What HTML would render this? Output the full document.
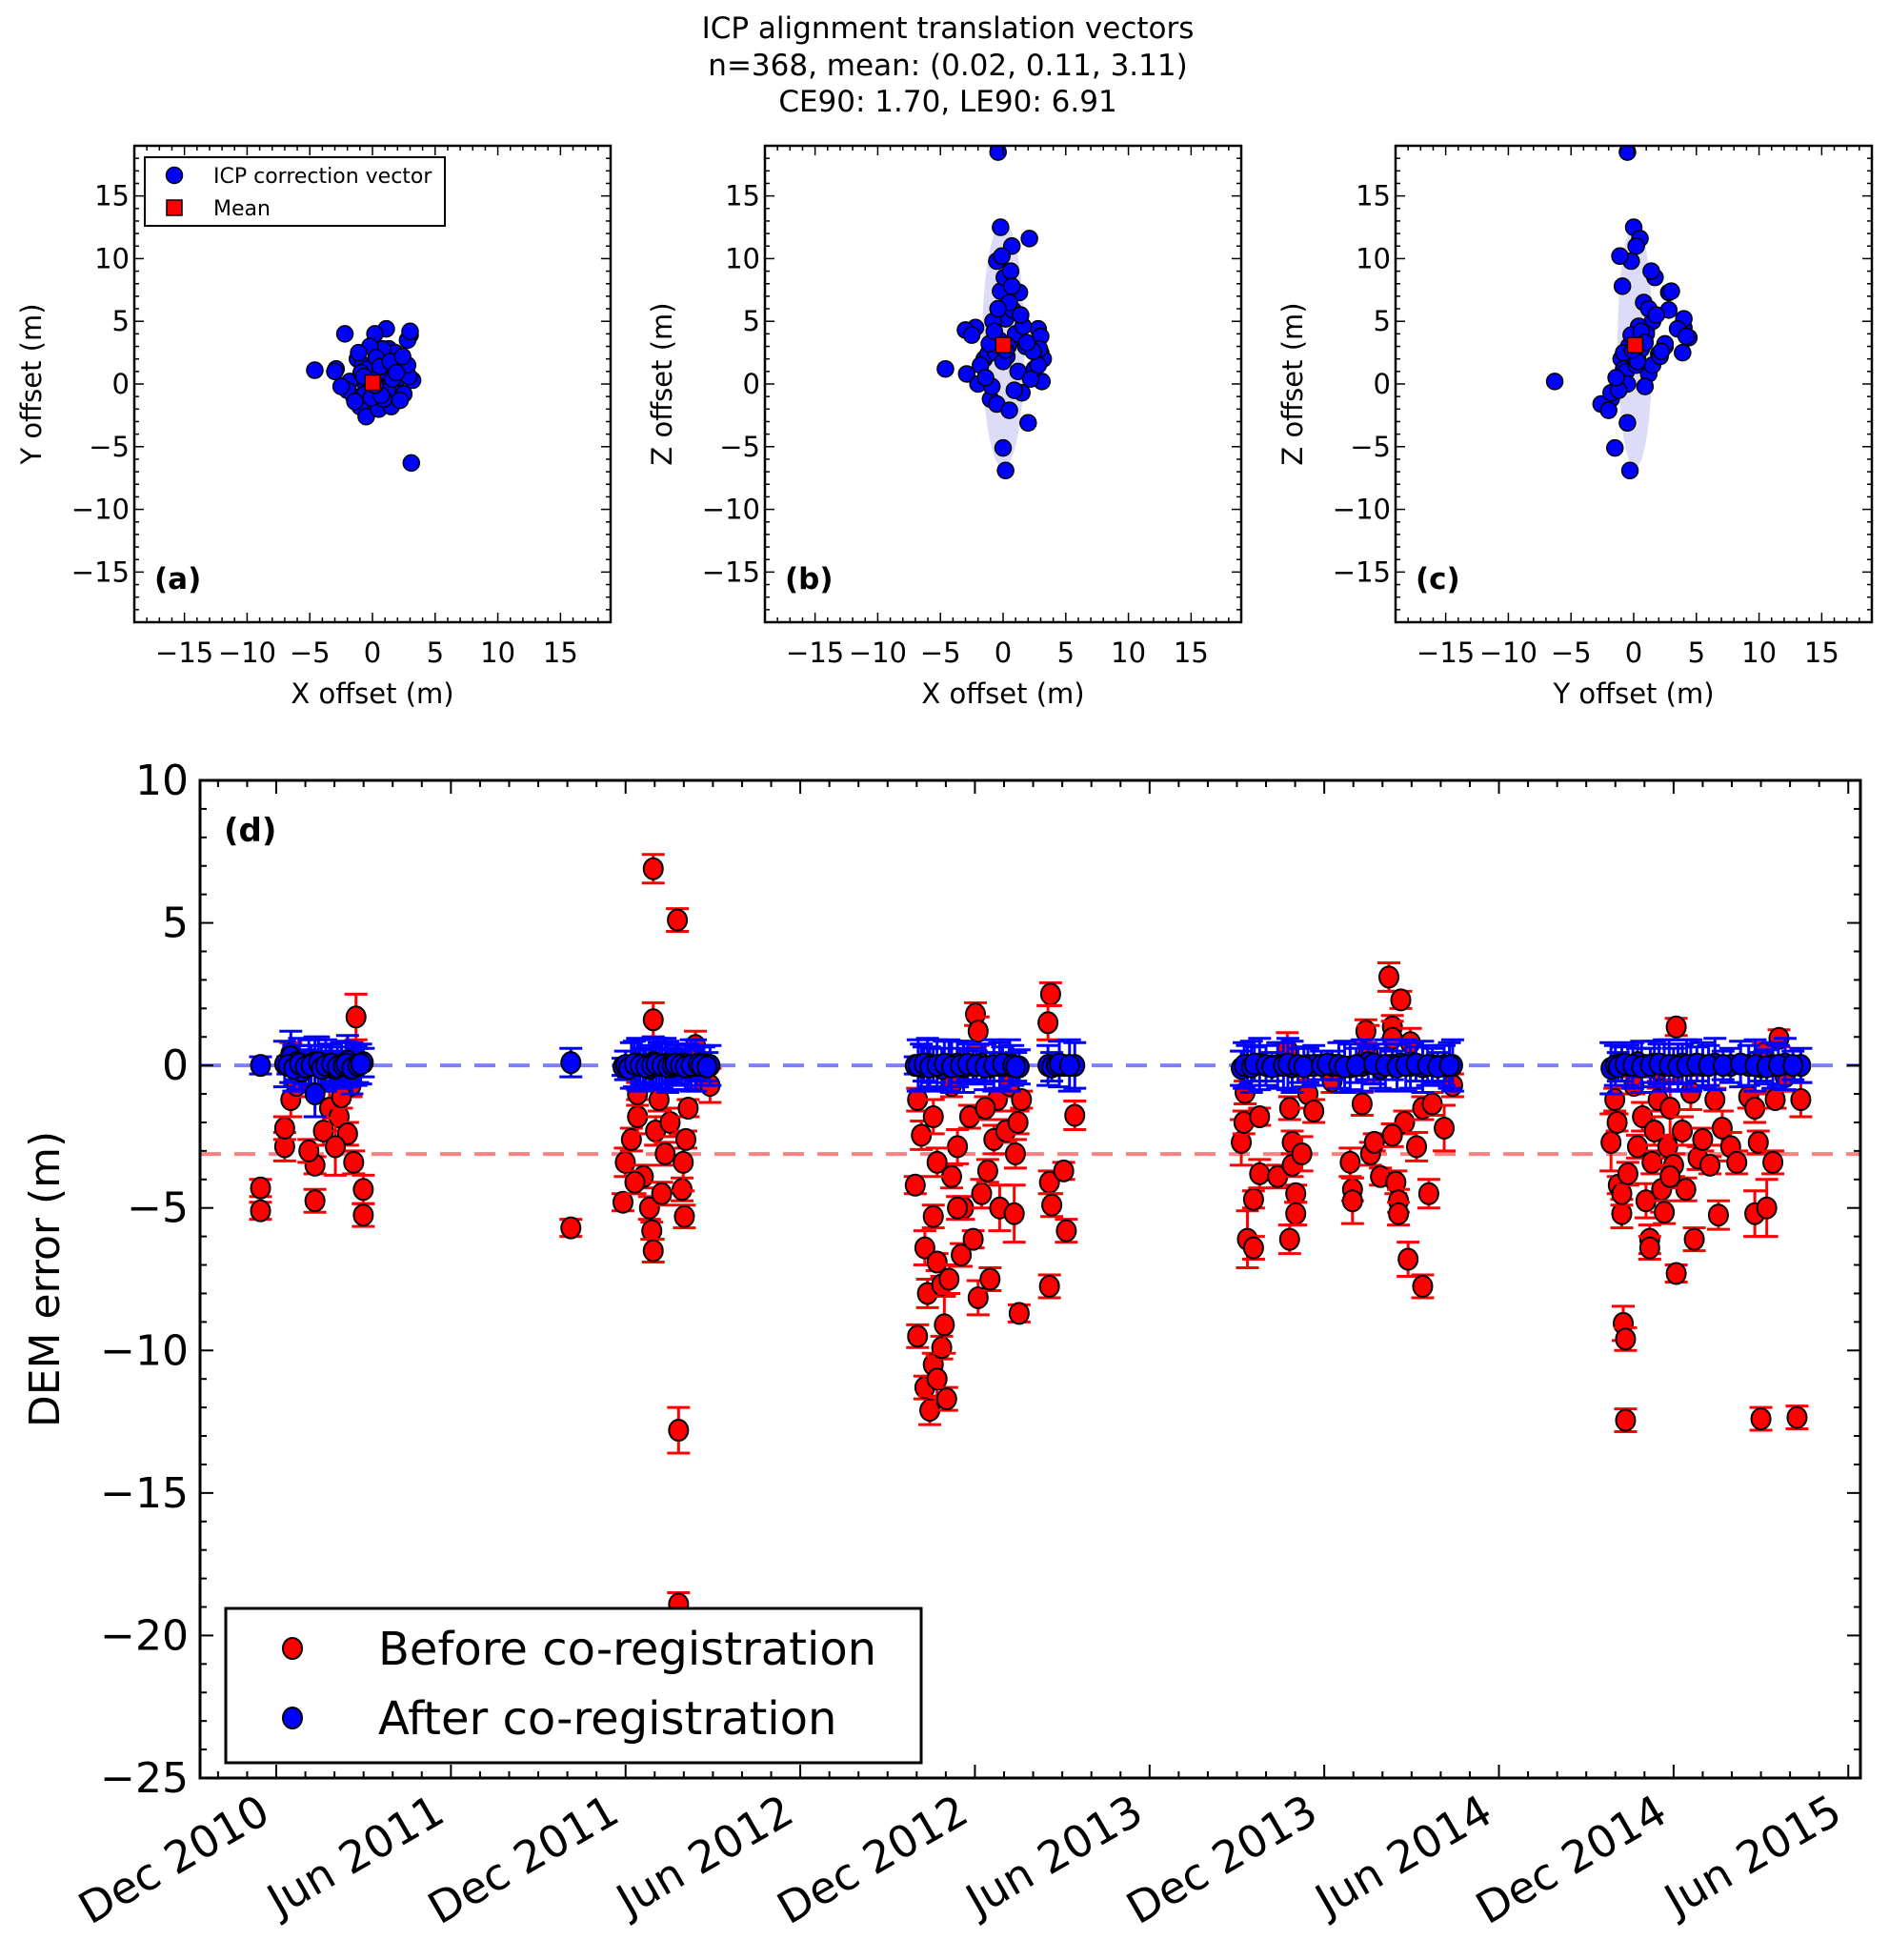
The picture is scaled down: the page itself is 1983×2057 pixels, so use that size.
<!DOCTYPE html>
<html><head><meta charset="utf-8">
<style>
html,body{margin:0;padding:0;background:#fff;}
svg{display:block;font-family:"DejaVu Sans","Liberation Sans",sans-serif;}
</style></head>
<body>
<svg id="fig" width="1983" height="2057" viewBox="0 0 1983 2057" xmlns="http://www.w3.org/2000/svg">
<rect width="1983" height="2057" fill="#fff"/>
<g font-size="31" text-anchor="middle">
<text x="995" y="40">ICP alignment translation vectors</text>
<text x="995" y="79">n=368, mean: (0.02, 0.11, 3.11)</text>
<text x="995" y="117">CE90: 1.70, LE90: 6.91</text>
</g>
<g id="topPanels"></g>
<g id="bottom"></g>
</svg>
<script>
// ---------- ICP vector data (x, y, z offsets in m) ----------
const vecX = [-4.6,3.1,-2.2,3.0,1.1,0.2,-2.9,2.0,0.0,0.2,-0.4,-0.2,2.1,0.7,-0.5,1.3,-3.0,2.8,3.0,3.2,2.9,-1.5,-1.2,-1.0,-0.5,0.5,1.5,2.5,2.8,1.8,0.8,-0.2,0.1,0.5,-0.8,1.0,-0.3,0.4,-0.6,1.2,-1.8,2.2,-2.0,0.9,-0.4,1.6,-1.1,0.3,-0.9,0.6,-0.1,1.4,0.0,-1.4,2.4,-2.5,0.7,-0.7,1.9,0.2];
const vecY = [1.1,-6.3,4.0,3.9,4.4,4.0,1.2,-0.5,-1.5,-0.3,-0.5,0.0,0.5,0.2,-0.2,2.8,1.0,3.5,4.2,0.3,0.6,-1.0,2.0,-1.8,-2.6,-2.0,-1.8,-0.8,1.5,2.5,2.8,3.0,1.7,0.8,1.5,1.0,0.5,-0.4,-0.8,-0.6,0.2,-1.3,-0.5,-1.2,1.2,0.4,2.5,2.1,0.9,1.4,-1.1,1.8,0.3,-1.4,2.2,-0.2,-0.9,0.6,0.9,-0.1];
const vecZ = [1.2,0.2,4.5,2.5,3.7,5.2,0.8,-3.1,-5.1,-6.9,18.5,12.5,11.6,11.0,9.8,7.3,4.3,4.4,3.8,2.0,2.8,2.0,2.4,-1.2,-1.6,-2.1,-0.7,1.2,1.5,3.0,5.9,7.4,8.5,6.5,5.0,4.0,3.5,3.0,2.5,1.0,1.5,0.4,0.0,-0.5,6.0,4.6,3.2,2.2,-0.2,9.0,10.2,5.5,1.8,0.5,2.6,3.9,7.8,4.2,3.3,2.7];
const meanXYZ = [0.02, 0.11, 3.11];
const offTicks = [-15,-10,-5,0,5,10,15];
const offTickLabels = ["\u221215","\u221210","\u22125","0","5","10","15"];

// ---------- DEM error data (months since 1 Dec 2010, error m) ----------
const beforeT = [-0.54,-0.54,0.29,0.29,0.5,0.7,0.5,1.33,1.33,1.12,1.62,1.83,2.16,2.45,2.66,2.99,2.99,2.74,2.57,2.24,2.03,0.87,
10.12,11.91,11.99,12.2,12.41,12.41,12.61,12.82,12.9,12.95,12.95,12.95,13.03,13.24,13.36,13.53,13.78,13.82,13.82,13.94,13.98,14.02,14.07,14.15,14.4,14.69,14.9,13.65,13.15,12.32,
21.95,22.03,22.16,22.28,22.37,22.03,22.28,22.45,22.57,22.7,22.86,23.03,22.95,22.57,22.7,22.86,23.11,23.2,23.4,23.53,23.61,23.82,23.94,24.02,24.11,24.11,24.23,24.44,24.52,24.65,24.77,24.85,25.06,25.19,25.35,25.48,25.52,25.6,25.39,26.6,26.51,26.56,26.64,26.56,27.05,27.14,27.43,22.57,22.7,23.2,23.4,23.73,24.36,
33.15,33.24,33.28,33.36,33.57,33.57,33.78,33.78,34.4,34.73,34.81,34.9,34.9,35.02,35.02,34.81,35.23,35.44,35.64,36.27,36.89,36.97,36.97,37.3,37.43,37.51,37.59,37.72,37.93,38.22,38.34,38.34,38.46,38.55,38.55,38.63,38.76,38.96,38.88,39.17,39.38,39.38,39.59,39.71,40.12,40.41,38.34,
45.85,45.98,46.06,46.1,46.22,46.22,46.27,46.35,46.35,46.43,46.64,46.76,46.93,47.05,47.18,47.18,47.26,47.34,47.47,47.59,47.68,47.8,47.88,48.0,48.09,48.09,48.3,48.42,48.59,48.71,48.84,49.0,49.25,49.42,49.54,49.67,49.96,50.17,50.58,50.79,50.91,50.79,51.0,51.08,51.2,51.41,51.49,51.62,51.83,52.24,52.37,47.88,47.47];
const beforeV = [-5.1,-4.3,-2.85,-2.2,-1.2,-0.7,0.4,-4.75,-3.5,-3.0,-2.3,-1.5,-1.8,-2.4,-3.4,-4.35,-5.25,1.7,-0.7,-1.1,-2.85,0.1,
-5.7,-4.8,-3.4,-2.6,-1.8,-1.0,-3.9,-5.0,-5.8,-6.5,6.9,1.6,-2.3,-4.5,-3.1,-2.0,5.1,-12.8,-18.9,-4.35,-3.4,-5.3,-2.6,-1.5,0.7,-0.4,-0.7,-0.1,-1.2,-4.1,
-4.2,-1.2,-2.45,-6.4,-8.0,-9.5,-11.3,-12.1,-10.5,-11.0,-9.9,-11.7,-9.1,-5.3,-6.9,-7.7,-7.5,-3.9,-2.85,-6.65,-5.0,-1.8,-6.1,1.8,1.2,-8.15,-4.5,-3.7,-7.5,-2.6,-1.2,-5.0,-2.3,-0.7,-5.2,-2.0,-8.7,-1.2,-3.1,2.5,1.5,-4.1,-4.9,-7.75,-3.7,-5.8,-1.75,-1.8,-3.4,-0.7,-5.0,0.0,-1.5,
-2.7,-2.0,-0.95,-6.1,-6.4,-4.7,-1.8,-3.8,-3.9,0.55,-1.5,-2.7,-3.5,-4.5,-5.2,-6.1,-3.1,-1.0,-1.6,-0.55,-3.4,-4.35,-4.75,-1.35,1.2,0.4,-3.1,-2.7,-3.9,3.1,1.35,0.95,-4.1,-4.75,-5.2,2.3,-2.0,0.8,-6.8,-2.85,-1.5,-7.75,-4.5,-1.35,-2.2,-0.7,-2.45,
-2.7,-1.2,-2.0,-4.2,-5.2,-4.5,-9.05,-9.6,-12.45,-3.8,-0.7,-2.85,-1.8,-4.75,-6.1,-6.4,-3.4,-2.3,-1.2,-4.35,-5.15,-2.85,-1.5,-3.5,1.35,-7.3,-2.3,-4.35,-0.95,-6.1,-3.25,-2.6,-3.5,-1.2,-5.25,-2.2,-2.85,-3.4,-1.1,-1.5,-2.7,-5.2,-12.4,0.4,-5.0,-3.4,-1.2,0.95,-0.4,-12.35,-1.2,-3.9,-0.15];
const beforeErr = [0.3,0.3,0.5,0.4,0.6,0.4,0.4,0.4,0.3,0.4,0.5,0.6,0.5,0.4,0.4,0.5,0.4,0.8,0.4,0.4,1.0,0.4];
const afterT = [-0.54,0.29,0.5,0.7,0.87,1.12,1.33,1.33,1.62,1.83,2.03,2.24,2.45,2.57,2.74,2.99,0.4,0.6,0.8,1.0,1.2,1.45,1.55,1.7,1.9,2.1,2.3,2.4,2.6,2.8,2.9,
10.12,11.91,12.2,12.41,12.61,12.82,12.95,13.15,13.36,13.53,13.78,13.98,14.15,14.4,14.69,14.9,12.0,12.1,12.3,12.5,12.7,12.9,13.05,13.25,13.45,13.6,13.7,13.88,14.05,14.25,14.5,14.6,14.8,
21.95,22.16,22.37,22.57,22.86,23.11,23.4,23.61,23.94,24.23,24.52,24.85,25.19,25.52,26.51,26.64,27.05,27.43,22.05,22.25,22.45,22.7,22.95,23.2,23.5,23.75,24.05,24.35,24.65,24.95,25.3,25.4,26.8,26.9,27.25,
33.15,33.36,33.78,34.4,34.9,35.44,35.64,36.27,36.89,37.3,37.51,37.93,38.34,38.63,38.96,39.38,39.71,40.12,40.41,33.25,33.5,33.6,34.0,34.2,34.6,34.75,35.1,35.3,35.9,36.1,36.5,36.7,37.1,37.7,38.1,38.5,38.8,39.15,39.55,39.9,40.3,
45.85,46.22,46.43,46.76,47.05,47.34,47.68,48.0,48.3,48.59,49.0,49.42,49.96,50.58,51.0,51.41,51.83,52.37,46.0,46.1,46.33,46.6,46.9,47.2,47.5,47.85,48.15,48.45,48.8,49.2,49.7,50.3,50.8,51.2,51.6,52.1];
const afterV = [0.0,0.05,0.3,0.1,-0.2,0.0,-1.0,0.1,-0.1,0.05,-0.1,0.0,0.15,-0.1,0.0,0.1,0.0,-0.1,0.05,-0.05,0.0,0.1,-0.1,0.0,0.05,-0.05,0.0,0.05,-0.1,0.0,0.05,
0.1,-0.05,0.0,0.05,0.0,-0.1,0.1,0.0,0.05,-0.05,0.0,0.05,-0.05,0.0,0.05,0.0,0.0,-0.1,0.05,0.0,-0.05,0.0,0.05,0.0,-0.05,0.0,0.05,0.0,-0.05,0.0,0.05,0.0,-0.05,
0.0,-0.05,0.05,0.0,-0.1,0.0,0.05,-0.05,0.0,0.05,-0.05,0.0,0.0,-0.05,0.0,-0.05,0.0,0.0,0.0,0.05,-0.05,0.0,0.05,-0.05,0.0,0.05,0.0,-0.05,0.0,0.05,0.0,-0.05,0.0,0.05,0.0,
-0.1,0.0,0.05,0.0,-0.05,0.0,0.0,0.0,-0.05,0.0,0.1,-0.1,0.0,0.05,0.0,-0.05,0.0,0.0,0.0,0.0,-0.05,0.05,0.0,-0.05,0.0,0.05,0.0,-0.05,0.0,0.05,0.0,-0.05,0.0,0.05,0.0,-0.05,0.0,0.05,0.0,-0.05,0.0,
-0.1,0.05,0.0,0.1,0.0,0.05,0.0,0.0,0.05,0.0,0.0,0.05,0.0,0.0,-0.05,0.0,0.05,0.0,0.0,-0.05,0.05,0.0,-0.05,0.0,0.05,0.0,-0.05,0.0,0.05,0.0,0.0,0.05,0.0,-0.05,0.0,0.0];
const afterErr = [0.3,0.8,0.9,0.6,0.7,0.9,0.8,0.9,0.6,0.7,0.5,0.8,0.9,0.6,0.7,0.5];
const dateTickMonths = [0,6,12,18,24,30,36,42,48,54];
const dateTickLabels = ["Dec 2010","Jun 2011","Dec 2011","Jun 2012","Dec 2012","Jun 2013","Dec 2013","Jun 2014","Dec 2014","Jun 2015"];
const errTicks = [10,5,0,-5,-10,-15,-20,-25];
const errTickLabels = ["10","5","0","\u22125","\u221210","\u221215","\u221220","\u221225"];
const meanBefore = -3.11;
const meanAfter = 0;

const NS = "http://www.w3.org/2000/svg";
function el(tag, attrs, parent){const e=document.createElementNS(NS,tag);for(const k in attrs)e.setAttribute(k,attrs[k]);if(parent)parent.appendChild(e);return e;}

// ---------- top scatter panels ----------
const topG = document.getElementById('topPanels');
const panels = [
 {left:141, name:'panel-a', label:'(a)', xs:vecX, ys:vecY, mx:meanXYZ[0], my:meanXYZ[1], xl:'X offset (m)', yl:'Y offset (m)', ell:[1.7,1.7], legend:true},
 {left:803, name:'panel-b', label:'(b)', xs:vecX, ys:vecZ, mx:meanXYZ[0], my:meanXYZ[2], xl:'X offset (m)', yl:'Z offset (m)', ell:[1.7,9.8]},
 {left:1465, name:'panel-c', label:'(c)', xs:vecY, ys:vecZ, mx:meanXYZ[1], my:meanXYZ[2], xl:'Y offset (m)', yl:'Z offset (m)', ell:[1.4,9.8]}
];
const PT=153, PW=500, LIM=19;
panels.forEach(p=>{
  const g=el('g',{},topG);
  
  
  const sx=v=>p.left+(v+LIM)/(2*LIM)*PW;
  const sy=v=>PT+(LIM-v)/(2*LIM)*PW;
  const clip=el('clipPath',{id:'clip-'+p.name},g);
  el('rect',{x:p.left,y:PT,width:PW,height:PW},clip);
  const plot=el('g',{'clip-path':'url(#clip-'+p.name+')'},g);
  const e=el('ellipse',{cx:sx(p.mx),cy:sy(p.my),rx:p.ell[0]*PW/(2*LIM),ry:p.ell[1]*PW/(2*LIM),fill:'#dcdcf8'},plot);
  
  
  for(let i=0;i<p.xs.length;i++){
    const c=el('circle',{cx:sx(p.xs[i]),cy:sy(p.ys[i]),r:8.5,fill:'#0000ff',stroke:'#000','stroke-width':1.5},plot);
    
    
  }
  const m=el('rect',{x:sx(p.mx)-8,y:sy(p.my)-8,width:16,height:16,fill:'#ff0000',stroke:'#000','stroke-width':1.5},plot);
  
  
  el('rect',{x:p.left,y:PT,width:PW,height:PW,fill:'none',stroke:'#000','stroke-width':2.5},g);
  for(let v=-18; v<=18; v++){
    const major = v%5===0;
    const L = major?10:5;
    el('line',{x1:sx(v),x2:sx(v),y1:PT+PW,y2:PT+PW-L,stroke:'#000','stroke-width':1.5},g);
    el('line',{x1:sx(v),x2:sx(v),y1:PT,y2:PT+L,stroke:'#000','stroke-width':1.5},g);
    el('line',{x1:p.left,x2:p.left+L,y1:sy(v),y2:sy(v),stroke:'#000','stroke-width':1.5},g);
    el('line',{x1:p.left+PW,x2:p.left+PW-L,y1:sy(v),y2:sy(v),stroke:'#000','stroke-width':1.5},g);
  }
  offTicks.forEach((v,i)=>{
    const t=el('text',{x:sx(v),y:PT+PW+42,'font-size':29,'text-anchor':'middle'},g);
    t.textContent=offTickLabels[i];
    
    
    const t2=el('text',{x:p.left-5,y:sy(v)+10,'font-size':29,'text-anchor':'end'},g);
    t2.textContent=offTickLabels[i];
    
    
  });
  const xl=el('text',{x:p.left+PW/2,y:738,'font-size':29,'text-anchor':'middle'},g);
  xl.textContent=p.xl;
  
  
  const yx=p.left-98, yy=PT+PW/2;
  const yl=el('text',{x:yx,y:yy,'font-size':29,'text-anchor':'middle',transform:'rotate(-90 '+yx+' '+yy+')'},g);
  yl.textContent=p.yl;
  
  
  const pl=el('text',{x:p.left+21,y:618,'font-size':31,'font-weight':'bold'},g);
  pl.textContent=p.label;
  
  
  if(p.legend){
    const lgA=el('g',{},g);
    
    
    el('rect',{x:152,y:165,width:315,height:72,fill:'#fff',stroke:'#000','stroke-width':2},lgA);
    el('circle',{cx:183,cy:184,r:8.5,fill:'#0000ff',stroke:'#000','stroke-width':1.5},lgA);
    el('rect',{x:175,y:210,width:16,height:16,fill:'#ff0000',stroke:'#000','stroke-width':1.5},lgA);
    const a=el('text',{x:224,y:192,'font-size':22},lgA); a.textContent='ICP correction vector';
    const b=el('text',{x:224,y:226,'font-size':22},lgA); b.textContent='Mean';
  }
});

// ---------- bottom time-series panel ----------
const bot=document.getElementById('bottom');
const BL=210, BR=1953, BT=819, BB=1866;
const M0=290, PXM=30.56;
const tx=m=>M0+m*PXM;
const ty=v=>BT+(10-v)/35*(BB-BT);
const clipB=el('clipPath',{id:'clip-bottom'},bot);
el('rect',{x:BL,y:BT,width:BR-BL,height:BB-BT},clipB);
const plotB=el('g',{'clip-path':'url(#clip-bottom)'},bot);


const lb=el('line',{x1:BL,x2:BR,y1:ty(meanBefore),y2:ty(meanBefore),stroke:'#ff8080','stroke-width':4,'stroke-dasharray':'22 14'},plotB);


const la=el('line',{x1:BL,x2:BR,y1:ty(meanAfter),y2:ty(meanAfter),stroke:'#8080ff','stroke-width':4,'stroke-dasharray':'22 14'},plotB);


function errbar(g,x,v,e,col){
  el('line',{x1:x,x2:x,y1:ty(v+e),y2:ty(v-e),stroke:col,'stroke-width':3},g);
  el('line',{x1:x-12,x2:x+12,y1:ty(v+e),y2:ty(v+e),stroke:col,'stroke-width':3},g);
  el('line',{x1:x-12,x2:x+12,y1:ty(v-e),y2:ty(v-e),stroke:col,'stroke-width':3},g);
}
const gRed=el('g',{},plotB);


beforeT.forEach((m,i)=>{
  const e=beforeErr[i%beforeErr.length];
  errbar(gRed,tx(m),beforeV[i],e,'#ff0000');
  const c=el('ellipse',{cx:tx(m),cy:ty(beforeV[i]),rx:10,ry:11,fill:'#ff0000',stroke:'#000','stroke-width':2},gRed);
  
  
});
const gBlue=el('g',{},plotB);


afterT.forEach((m,i)=>{
  errbar(gBlue,tx(m),afterV[i],afterErr[i%afterErr.length],'#0000ff');
});
afterT.forEach((m,i)=>{
  const c=el('ellipse',{cx:tx(m),cy:ty(afterV[i]),rx:10,ry:11,fill:'#0000ff',stroke:'#000','stroke-width':2},gBlue);
  
  
});
el('rect',{x:BL,y:BT,width:BR-BL,height:BB-BT,fill:'none',stroke:'#000','stroke-width':3},bot);
for(let m=-2;m<=54;m++){
  const x=tx(m); if(x<BL||x>BR) continue;
  const L=(m%6===0)?14:7;
  el('line',{x1:x,x2:x,y1:BB,y2:BB-L,stroke:'#000','stroke-width':2},bot);
  el('line',{x1:x,x2:x,y1:BT,y2:BT+L,stroke:'#000','stroke-width':2},bot);
}
for(let v=-25;v<=10;v++){
  const L=(v%5===0)?14:7;
  el('line',{x1:BL,x2:BL+L,y1:ty(v),y2:ty(v),stroke:'#000','stroke-width':2},bot);
  el('line',{x1:BR,x2:BR-L,y1:ty(v),y2:ty(v),stroke:'#000','stroke-width':2},bot);
}
errTicks.forEach((v,i)=>{
  const t=el('text',{x:BL-12,y:ty(v)+15,'font-size':44,'text-anchor':'end'},bot);
  t.textContent=errTickLabels[i];
  
  
});
dateTickMonths.forEach((m,i)=>{
  const x=tx(m)-4, y=BB+44;
  const t=el('text',{x:x,y:y,'font-size':46,'text-anchor':'end',transform:'rotate(-30 '+x+' '+y+')'},bot);
  t.textContent=dateTickLabels[i];
  
  
});
const yT=el('text',{x:62,y:(BT+BB)/2,'font-size':44,'text-anchor':'middle',transform:'rotate(-90 62 '+((BT+BB)/2)+')'},bot);
yT.textContent='DEM error (m)';


const dl=el('text',{x:235,y:883,'font-size':34,'font-weight':'bold'},bot);
dl.textContent='(d)';


const lgB=el('g',{},bot);


el('rect',{x:237,y:1688,width:730,height:162,fill:'#fff',stroke:'#000','stroke-width':3},lgB);
el('ellipse',{cx:307,cy:1730,rx:10,ry:11,fill:'#ff0000',stroke:'#000','stroke-width':2},lgB);
el('ellipse',{cx:307,cy:1803,rx:10,ry:11,fill:'#0000ff',stroke:'#000','stroke-width':2},lgB);
const t1=el('text',{x:397,y:1747,'font-size':48},lgB); t1.textContent='Before co-registration';
const t2=el('text',{x:397,y:1820,'font-size':48},lgB); t2.textContent='After co-registration';
</script>
</body></html>
